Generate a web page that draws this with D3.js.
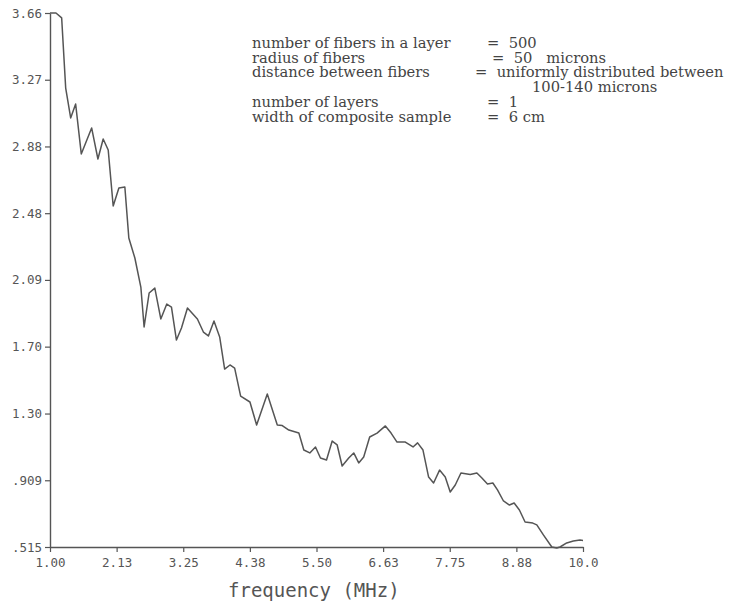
<!DOCTYPE html>
<html>
<head>
<meta charset="utf-8">
<script src="https://cdn.jsdelivr.net/npm/d3@7"></script>
<style>
  body { margin: 0; background: #fff; }
</style>
</head>
<body>
<div id="chart"></div>
<script>
// data: frequency (MHz) and the plotted value
var freq = [1.000, 1.101, 1.197, 1.265, 1.349, 1.433, 1.528, 1.703, 1.809, 1.898,
  1.983, 2.067, 2.163, 2.264, 2.331, 2.433, 2.534, 2.589, 2.674, 2.770,
  2.871, 2.972, 3.051, 3.135, 3.220, 3.321, 3.489, 3.590, 3.675, 3.769,
  3.865, 3.949, 4.039, 4.118, 4.219, 4.376, 4.489, 4.669, 4.838, 4.922,
  5.033, 5.202, 5.286, 5.387, 5.483, 5.567, 5.669, 5.765, 5.849, 5.933,
  6.044, 6.129, 6.213, 6.297, 6.398, 6.523, 6.663, 6.759, 6.860, 7.000,
  7.130, 7.207, 7.298, 7.393, 7.477, 7.578, 7.674, 7.758, 7.843, 7.939,
  8.096, 8.208, 8.293, 8.387, 8.478, 8.556, 8.657, 8.758, 8.837, 8.926,
  9.022, 9.152, 9.220, 9.331, 9.473, 9.557, 9.612, 9.725, 9.837, 9.949, 10.000];
var values = [3.660, 3.660, 3.631, 3.218, 3.042, 3.124, 2.830, 2.983, 2.800, 2.918,
  2.853, 2.523, 2.629, 2.635, 2.335, 2.217, 2.046, 1.811, 2.011, 2.040,
  1.858, 1.946, 1.928, 1.734, 1.805, 1.923, 1.858, 1.781, 1.758, 1.846,
  1.752, 1.563, 1.587, 1.569, 1.404, 1.369, 1.234, 1.416, 1.234, 1.230,
  1.204, 1.186, 1.086, 1.069, 1.104, 1.039, 1.027, 1.139, 1.116, 0.992,
  1.039, 1.069, 1.010, 1.045, 1.163, 1.186, 1.228, 1.186, 1.133, 1.133,
  1.104, 1.128, 1.086, 0.927, 0.892, 0.968, 0.927, 0.839, 0.880, 0.951,
  0.942, 0.951, 0.921, 0.886, 0.892, 0.851, 0.786, 0.762, 0.774, 0.733,
  0.662, 0.656, 0.645, 0.586, 0.515, 0.509, 0.515, 0.539, 0.550, 0.556, 0.553];

// tick values and their labels
var xTicks = [1, 2.125, 3.25, 4.375, 5.5, 6.625, 7.75, 8.875, 10];
var xTickLabels = ["1.00", "2.13", "3.25", "4.38", "5.50", "6.63", "7.75", "8.88", "10.0"];
var yTicks = [0.515, 0.908, 1.301, 1.695, 2.088, 2.481, 2.874, 3.267, 3.66];
var yTickLabels = [".515", ".909", "1.30", "1.70", "2.09", "2.48", "2.88", "3.27", "3.66"];

// annotation block
var noteNames = ["number of fibers in a layer", "radius of fibers", "distance between fibers", "",
  "number of layers", "width of composite sample"];
var noteValues = ["=  500", "=  50   microns", "=  uniformly distributed between", "100-140 microns",
  "=  1", "=  6 cm"];

var xLabel = "frequency (MHz)";

// dimensions
var margin = { top: 13, right: 146, bottom: 59, left: 50 },
  width = 729 - margin.left - margin.right,
  height = 606 - margin.top - margin.bottom;

var svg = d3.select("#chart")
  .append("svg")
  .attr("width", 729)
  .attr("height", 606)
  .append("g")
  .attr("transform", "translate(" + margin.left + "," + margin.top + ")");

var ink = "#555";
var tickFont = "'DejaVu Sans Mono', monospace";

// X axis
var x = d3.scaleLinear()
  .domain([1, 10])
  .range([0, width]);
var xAxis = svg.append("g")
  .attr("transform", "translate(0," + height + ")")
  .call(d3.axisBottom(x)
    .tickValues(xTicks)
    .tickFormat(function (d, i) { return xTickLabels[i]; })
    .tickSize(5)
    .tickPadding(6)
    .tickSizeOuter(0));

// Y axis
var y = d3.scaleLinear()
  .domain([0.515, 3.66])
  .range([height, 0]);
var yAxis = svg.append("g")
  .call(d3.axisLeft(y)
    .tickValues(yTicks)
    .tickFormat(function (d, i) { return yTickLabels[i]; })
    .tickSize(5)
    .tickPadding(3)
    .tickSizeOuter(0));

[xAxis, yAxis].forEach(function (g) {
  g.select(".domain").attr("stroke", ink).attr("stroke-width", 1.4);
  g.selectAll(".tick line").attr("stroke", ink).attr("stroke-width", 1.2);
  g.selectAll(".tick text")
    .attr("fill", ink)
    .style("font-family", tickFont)
    .style("font-size", "12.5px");
});

// the curve
var pts = freq.map(function (f, i) { return [f, values[i]]; });
svg.append("path")
  .datum(pts)
  .attr("fill", "none")
  .attr("stroke", ink)
  .attr("stroke-width", 1.5)
  .attr("stroke-linejoin", "round")
  .attr("d", d3.line()
    .x(function (d) { return x(d[0]); })
    .y(function (d) { return y(d[1]); }));

// x axis title
svg.append("text")
  .attr("x", 228 - margin.left)
  .attr("y", 597 - margin.top)
  .attr("fill", ink)
  .style("font-family", tickFont)
  .style("font-size", "19px")
  .text(xLabel);

// annotation text
var noteFont = "'DejaVu Serif', serif";
var notes = svg.append("g")
  .attr("transform", "translate(" + (252 - margin.left) + "," + (48 - margin.top) + ")")
  .style("font-family", noteFont)
  .style("font-size", "14.7px")
  .attr("fill", "#444");
var eqX = [235, 240, 223, 280, 235, 235];
noteNames.forEach(function (n, i) {
  notes.append("text").attr("x", 0).attr("y", i * 14.7).text(n);
  notes.append("text").attr("x", eqX[i]).attr("y", i * 14.7)
    .attr("xml:space", "preserve").style("white-space", "pre").text(noteValues[i]);
});
</script>
</body>
</html>
